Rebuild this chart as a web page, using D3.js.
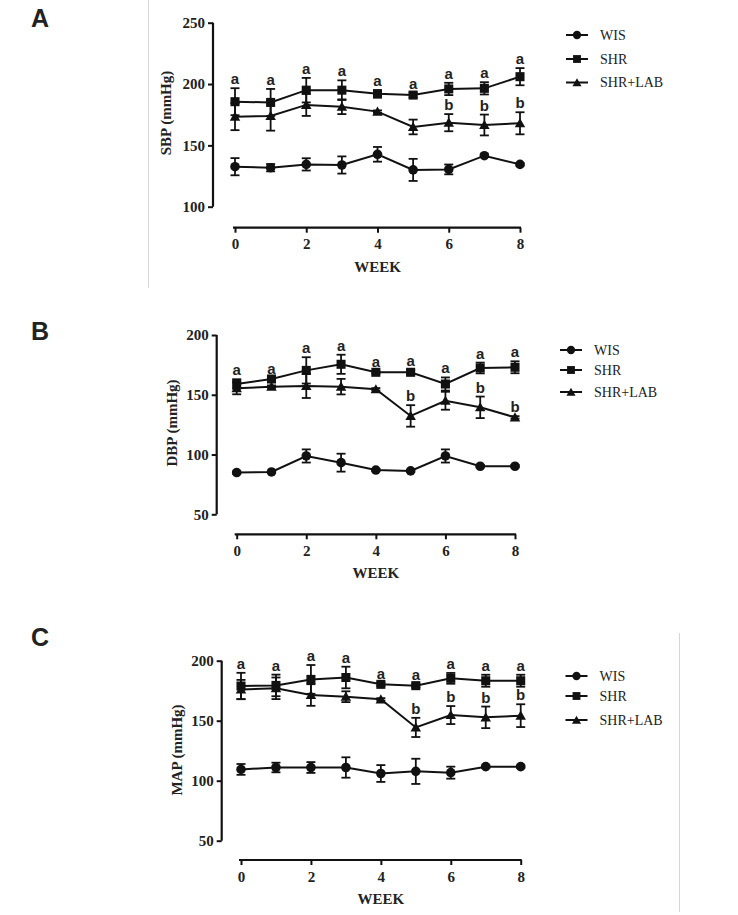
<!DOCTYPE html>
<html lang="en">
<head>
  <meta charset="UTF-8">
  <title>Blood pressure over 8 weeks</title>
  <script src="https://d3js.org/d3.v7.min.js"></script>
  <style>
    body { margin: 0; background: #fff; }
    svg { display: block; }
  </style>
</head>
<body>
<div id="chart"></div>
<script>
  // weeks on the x axis
  const weeks = [0, 1, 2, 3, 4, 5, 6, 7, 8];
  const weekTicks = [0, 2, 4, 6, 8];
  const groups = ["WIS", "SHR", "SHR+LAB"];

  // A: SBP
  const sbpWIS = [132.6, 131.8, 134.5, 134, 142.7, 130, 130.4, 141.6, 134.5];
  const sbpWISErr = [7, 3, 5, 7, 6, 9, 4, 1, 1];
  const sbpSHR = [185.6, 185, 195, 195, 192, 191, 196, 196.5, 206];
  const sbpSHRErr = [11, 11, 10, 8, 3, 2, 5, 5, 7];
  const sbpLAB = [173.4, 174, 183, 181.5, 177.5, 165, 168.5, 166.6, 168];
  const sbpLABErr = [11, 12, 9, 6, 1, 6, 7, 8.5, 9];
  const sbpSHRLetters = ["a", "a", "a", "a", "a", "a", "a", "a", "a"];
  const sbpLABLetters = ["", "", "", "", "", "", "b", "b", "b"];
  const sbpTicks = [100, 150, 200, 250];

  // B: DBP
  const dbpWIS = [84.9, 85.4, 98.8, 93.2, 87, 86.3, 98.8, 90.2, 90.2];
  const dbpWISErr = [1, 1, 5.5, 7.5, 1, 1, 5.5, 1, 1];
  const dbpSHR = [159, 163.2, 170.4, 175.5, 168.8, 168.8, 159, 172.4, 173];
  const dbpSHRErr = [4, 1, 11, 8, 1, 2, 5.5, 4.5, 5];
  const dbpLAB = [155.4, 156.8, 157.3, 156.8, 154.6, 132.3, 145, 139.5, 131.1];
  const dbpLABErr = [5, 1, 10, 6.5, 1, 9, 7.5, 9, 1];
  const dbpSHRLetters = ["a", "a", "a", "a", "a", "a", "a", "a", "a"];
  const dbpLABLetters = ["", "", "", "", "", "b", "", "b", "b"];
  const dbpTicks = [50, 100, 150, 200];

  // C: MAP
  const mapWIS = [109.4, 111, 111, 111, 106, 107.8, 106.7, 111.7, 111.7];
  const mapWISErr = [4.5, 4, 4.5, 8.5, 7, 10.5, 5, 1, 1];
  const mapSHR = [178.9, 179.4, 184.4, 186, 180.3, 179.2, 185.3, 183.3, 183.3];
  const mapSHRErr = [11, 9, 12, 9, 1.5, 1.5, 4.5, 5, 5];
  const mapLAB = [176, 177, 171.4, 170, 167.8, 144.4, 154.7, 152.8, 154.2];
  const mapLABErr = [8, 9, 9, 4.5, 1, 8, 7.5, 9, 9.5];
  const mapSHRLetters = ["a", "a", "a", "a", "a", "a", "a", "a", "a"];
  const mapLABLetters = ["", "", "", "", "", "b", "b", "b", "b"];
  const mapTicks = [50, 100, 150, 200];

  const W = 738, H = 915;
  const svg = d3.select('#chart').append('svg')
    .attr('width', W)
    .attr('height', H);

  const symbols = [d3.symbolCircle, d3.symbolSquare, d3.symbolTriangle];
  const symbolSizes = [72, 82, 48];
  const serif = 'Liberation Serif, Times New Roman, serif';
  const sans = 'Liberation Sans, Arial, sans-serif';

  // faint page borders seen in the figure
  svg.append('line').attr('x1', 148.5).attr('x2', 148.5).attr('y1', 0).attr('y2', 288)
    .attr('stroke', '#d6d6d6').attr('stroke-width', 1);
  svg.append('line').attr('x1', 679.5).attr('x2', 679.5).attr('y1', 633).attr('y2', 912)
    .attr('stroke', '#d6d6d6').attr('stroke-width', 1);

  function drawPanel(p) {
    const x = d3.scaleLinear().domain([0, 8]).range([p.x0, p.x8]);
    const y = d3.scaleLinear().domain(p.yDomain).range([p.yBottom, p.yTop]);
    const g = svg.append('g');

    // panel letter
    g.append('text')
      .attr('x', 31).attr('y', p.labelY)
      .attr('font-family', sans)
      .attr('font-weight', 'bold')
      .attr('font-size', 25)
      .attr('fill', '#222')
      .text(p.label);

    // y axis
    const yAxis = g.append('g')
      .attr('transform', `translate(${p.yAxisX},0)`)
      .call(d3.axisLeft(y).tickValues(p.ticks).tickSize(5).tickSizeOuter(0).tickPadding(3));
    // x axis (offset below)
    const xAxis = g.append('g')
      .attr('transform', `translate(0,${p.xAxisY})`)
      .call(d3.axisBottom(x).tickValues(weekTicks).tickSize(5).tickSizeOuter(0).tickPadding(6));
    [yAxis, xAxis].forEach(a => {
      a.select('.domain').attr('stroke-width', 2.2).attr('stroke', '#111');
      a.selectAll('.tick line').attr('stroke-width', 2).attr('stroke', '#111');
      a.selectAll('.tick text')
        .attr('font-family', serif)
        .attr('font-weight', 'bold')
        .attr('font-size', 15)
        .attr('fill', '#222');
    });
    yAxis.select('.domain').attr('d', `M0,${p.yTop}V${p.yBottom}`);
    xAxis.select('.domain').attr('d', `M${p.x0 - 2},0H${p.x8 + 1}`);

    // axis titles
    g.append('text')
      .attr('x', (p.x0 + p.x8) / 2).attr('y', p.xAxisY + 44)
      .attr('text-anchor', 'middle')
      .attr('font-family', serif)
      .attr('font-weight', 'bold')
      .attr('font-size', 15)
      .attr('fill', '#222')
      .text('WEEK');
    g.append('text')
      .attr('transform', `translate(${p.yLabelX},${p.yLabelY}) rotate(-90)`)
      .attr('text-anchor', 'middle')
      .attr('dominant-baseline', 'central')
      .attr('font-family', serif)
      .attr('font-weight', 'bold')
      .attr('font-size', 15)
      .attr('fill', '#222')
      .text(p.yTitle);

    const line = d3.line()
      .x((d, i) => x(weeks[i]))
      .y(d => y(d));

    p.series.forEach((s, si) => {
      // error bars
      const eb = g.append('g').attr('stroke', '#111').attr('stroke-width', 1.8);
      s.values.forEach((v, i) => {
        const cx = x(weeks[i]);
        const t = y(v + s.err[i]), b = y(v - s.err[i]);
        eb.append('line').attr('x1', cx).attr('x2', cx).attr('y1', t).attr('y2', b);
        eb.append('line').attr('x1', cx - 4.5).attr('x2', cx + 4.5).attr('y1', t).attr('y2', t);
        eb.append('line').attr('x1', cx - 4.5).attr('x2', cx + 4.5).attr('y1', b).attr('y2', b);
      });
      g.append('path')
        .datum(s.values)
        .attr('fill', 'none')
        .attr('stroke', '#111')
        .attr('stroke-width', 2)
        .attr('d', line);
      g.selectAll(null)
        .data(s.values)
        .enter().append('path')
        .attr('transform', (d, i) => `translate(${x(weeks[i])},${y(d) + (si === 2 ? 1 : 0)})`)
        .attr('d', d3.symbol().type(symbols[si]).size(symbolSizes[si]))
        .attr('fill', '#111');
      if (s.letters) {
        g.selectAll(null)
          .data(s.values)
          .enter().append('text')
          .attr('x', (d, i) => x(weeks[i]))
          .attr('y', (d, i) => y(d + s.err[i]) - 4)
          .attr('text-anchor', 'middle')
          .attr('font-family', sans)
          .attr('font-weight', 'bold')
          .attr('font-size', 15)
          .attr('fill', '#222')
          .text((d, i) => s.letters[i]);
      }
    });

    // legend
    const lg = g.append('g').attr('transform', `translate(${p.legendX},0)`);
    groups.forEach((name, i) => {
      const ly = p.legendY[i];
      lg.append('line').attr('x1', -11).attr('x2', 11).attr('y1', ly).attr('y2', ly)
        .attr('stroke', '#111').attr('stroke-width', 2);
      lg.append('path')
        .attr('transform', `translate(0,${ly + (i === 2 ? 1 : 0)})`)
        .attr('d', d3.symbol().type(symbols[i]).size(symbolSizes[i] * 0.75))
        .attr('fill', '#111');
      lg.append('text')
        .attr('x', 23).attr('y', ly)
        .attr('dominant-baseline', 'central')
        .attr('font-family', serif)
        .attr('font-size', 14)
        .attr('fill', '#222')
        .text(name);
    });
  }

  drawPanel({
    label: 'A', labelY: 27,
    yTitle: 'SBP (mmHg)', yDomain: [100, 250], ticks: sbpTicks,
    x0: 235, x8: 520, yAxisX: 213, yTop: 22.7, yBottom: 206.7, xAxisY: 227.7,
    yLabelX: 165.5, yLabelY: 113,
    legendX: 577, legendY: [35, 59, 82.5],
    series: [
      { values: sbpWIS, err: sbpWISErr },
      { values: sbpSHR, err: sbpSHRErr, letters: sbpSHRLetters },
      { values: sbpLAB, err: sbpLABErr, letters: sbpLABLetters }
    ]
  });

  drawPanel({
    label: 'B', labelY: 340,
    yTitle: 'DBP (mmHg)', yDomain: [50, 200], ticks: dbpTicks,
    x0: 236.7, x8: 515, yAxisX: 216.7, yTop: 335, yBottom: 514.3, xAxisY: 534.3,
    yLabelX: 171.5, yLabelY: 423,
    legendX: 571, legendY: [350, 370, 392],
    series: [
      { values: dbpWIS, err: dbpWISErr },
      { values: dbpSHR, err: dbpSHRErr, letters: dbpSHRLetters },
      { values: dbpLAB, err: dbpLABErr, letters: dbpLABLetters }
    ]
  });

  drawPanel({
    label: 'C', labelY: 646,
    yTitle: 'MAP (mmHg)', yDomain: [50, 200], ticks: mapTicks,
    x0: 241, x8: 520.7, yAxisX: 221.7, yTop: 660.7, yBottom: 840.7, xAxisY: 860,
    yLabelX: 177, yLabelY: 750,
    legendX: 576.5, legendY: [676, 696, 720],
    series: [
      { values: mapWIS, err: mapWISErr },
      { values: mapSHR, err: mapSHRErr, letters: mapSHRLetters },
      { values: mapLAB, err: mapLABErr, letters: mapLABLetters }
    ]
  });
</script>
</body>
</html>
